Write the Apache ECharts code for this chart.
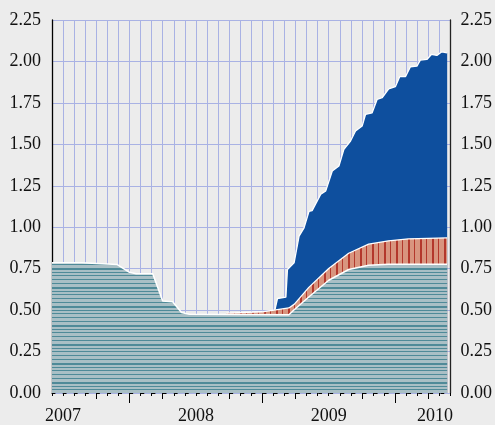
<!DOCTYPE html>
<html>
<head>
<meta charset="utf-8">
<script src="https://cdn.jsdelivr.net/npm/echarts@6/dist/echarts.min.js"></script>
<style>
html,body{margin:0;padding:0;background:#ececec;}
#chart{width:495px;height:425px;}
</style>
</head>
<body>
<div id="chart"></div>
<script>
// x values are months since the start of June 2007
var monthCategories = [];
for (var i = 0; i <= 36; i++) monthCategories.push(String(i));
var yearLabels = ['2007', '2008', '2009', '2010'];
var yearLabelIndex = [1, 13, 25, 35];
var yTicks = [0, 0.25, 0.5, 0.75, 1.0, 1.25, 1.5, 1.75, 2.0, 2.25];

// Bottom layer (grey, striped)
var bottomMonths = [0, 2.7, 2.8, 5.9, 7.0, 7.6, 9.1, 10.0, 10.9, 11.7, 12.4, 21.4, 21.9, 23.3, 25.0, 26.8, 28.6, 30.4, 35.7];
var bottomLevel  = [0.785, 0.785, 0.775, 0.775, 0.728, 0.72, 0.72, 0.555, 0.55, 0.485, 0.475, 0.472, 0.504, 0.585, 0.68, 0.745, 0.771, 0.777, 0.777];

// Middle layer top (red, striped)
var middleMonths = [15.75, 19.0, 20.2, 21.4, 21.9, 23.2, 25.0, 26.8, 28.6, 30.4, 32.2, 35.7];
var middleLevel  = [0.482, 0.49, 0.502, 0.513, 0.536, 0.637, 0.751, 0.843, 0.898, 0.918, 0.93, 0.936];

// Top layer top (blue)
var topMonths = [20.15, 20.37, 21.13, 21.27, 21.87, 22.32, 22.77, 23.22, 23.5, 24.28, 24.73, 25.32, 25.92, 26.37, 26.97, 27.42, 28.02, 28.32, 28.92, 29.37, 29.82, 30.42, 31.02, 31.41, 31.93, 32.38, 32.97, 33.27, 33.87, 34.27, 34.77, 35.22, 35.7];
var topLevel  = [0.505, 0.57, 0.578, 0.745, 0.785, 0.946, 0.996, 1.096, 1.1, 1.199, 1.219, 1.339, 1.369, 1.47, 1.52, 1.58, 1.61, 1.68, 1.69, 1.771, 1.781, 1.835, 1.848, 1.908, 1.908, 1.968, 1.972, 2.008, 2.012, 2.042, 2.036, 2.058, 2.052];

function pairs(xs, ys) { return xs.map(function (x, k) { return [x, ys[k]]; }); }

function makeHStripe() {
  var c = document.createElement('canvas'); c.width = 8; c.height = 19;
  var g = c.getContext('2d');
  g.fillStyle = '#a9bfc5'; g.fillRect(0, 0, 8, 19);
  g.fillStyle = '#4f8a98';
  g.fillRect(0, 2, 8, 2);
  [6, 9, 13, 17].forEach(function (y) { g.fillRect(0, y, 8, 1); });
  return c;
}
function makeVStripe() {
  var c = document.createElement('canvas'); c.width = 12; c.height = 4;
  var g = c.getContext('2d');
  g.fillStyle = '#d8957f'; g.fillRect(0, 0, 12, 4);
  g.fillStyle = '#b3382c';
  g.fillRect(0, 0, 2, 4);
  g.fillRect(6, 0, 1, 4);
  return c;
}

var font = '"Liberation Serif", "Times New Roman", serif';
var gridColor = '#a9b2e4';

var chart = echarts.init(document.getElementById('chart'), null, {renderer: 'canvas'});

function catAxis(tickFn, len, showLine, showLabel) {
  return {
    type: 'category', data: monthCategories, boundaryGap: false, position: 'bottom',
    axisLine: {show: showLine, onZero: false, lineStyle: {color: '#000', width: 1, type: [3, 8.11]}},
    axisTick: {show: true, interval: tickFn, length: len, lineStyle: {color: '#000', width: 1}},
    axisLabel: {
      show: showLabel, interval: 0, margin: 14, fontFamily: font, fontSize: 18, color: '#111',
      formatter: function (v, idx) {
        var k = yearLabelIndex.indexOf(idx);
        if (k < 0) return '';
        return k === yearLabels.length - 1 ? '{r|' + yearLabels[k] + '}' : yearLabels[k];
      },
      rich: {r: {fontFamily: font, fontSize: 18, color: '#111', padding: [0, 9, 0, 0]}}
    },
    splitLine: {show: false}
  };
}

var option = {
  backgroundColor: '#ececec',
  animation: false,
  grid: {left: 52, right: 43, top: 20, bottom: 31, containLabel: false},
  xAxis: [
    {type: 'value', min: 0, max: 36, interval: 1, position: 'bottom',
     axisLine: {show: false, onZero: false}, axisTick: {show: false}, axisLabel: {show: false},
     splitLine: {show: true, lineStyle: {color: gridColor, width: 1}}},
    catAxis(function () { return true; }, 3, true, true),
    catAxis(function (i) { return i % 6 === 4; }, 6, false, false),
    catAxis(function (i) { return i % 12 === 7; }, 10, false, false)
  ],
  yAxis: [
    {type: 'value', min: 0, max: 2.25, interval: 0.25, position: 'left',
     axisLine: {show: true, onZero: false, lineStyle: {color: '#000', width: 1.3}},
     axisTick: {show: false},
     axisLabel: {margin: 11, fontFamily: font, fontSize: 18, color: '#111', formatter: function (v) { return v.toFixed(2); }},
     splitLine: {show: true, lineStyle: {color: gridColor, width: 1}}},
    {type: 'value', min: 0, max: 2.25, interval: 0.25, position: 'right',
     axisLine: {show: true, onZero: false, lineStyle: {color: '#222', width: 1.3}},
     axisTick: {show: false},
     axisLabel: {margin: 10, fontFamily: font, fontSize: 18, color: '#111', formatter: function (v) { return v.toFixed(2); }},
     splitLine: {show: false}}
  ],
  series: [
    {type: 'line', name: 'top', data: pairs(topMonths, topLevel), showSymbol: false, z: 2,
     lineStyle: {color: '#ffffff', width: 1.3}, areaStyle: {color: '#0e4f9e', opacity: 1}},
    {type: 'line', name: 'middle', data: pairs(middleMonths, middleLevel), showSymbol: false, z: 3,
     lineStyle: {color: '#ffffff', width: 1.3}, areaStyle: {color: {image: makeVStripe(), repeat: 'repeat'}, opacity: 1}},
    {type: 'line', name: 'bottom', data: pairs(bottomMonths, bottomLevel), showSymbol: false, z: 4,
     lineStyle: {color: '#ffffff', width: 1.5}, areaStyle: {color: {image: makeHStripe(), repeat: 'repeat'}, opacity: 1}}
  ]
};
chart.setOption(option);
</script>
</body>
</html>
